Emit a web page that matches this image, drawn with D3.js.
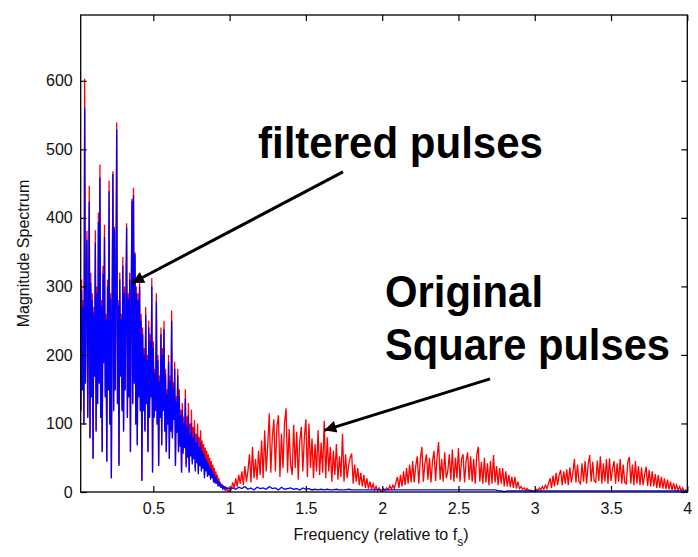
<!DOCTYPE html>
<html>
<head>
<meta charset="utf-8">
<script src="https://cdn.jsdelivr.net/npm/d3@7"></script>
<style>
  html, body { margin: 0; padding: 0; background: #ffffff; }
  svg { display: block; }
  text { font-family: "Liberation Sans", Arial, Helvetica, sans-serif; }
</style>
</head>
<body>
<svg id="chart" width="698" height="557"></svg>
<script>
// ---------------- DATA ----------------
// Low-frequency part (0.02 .. 1.00, step 0.005)
const lowStart = 0.02, lowStep = 0.005;
const redLow = [
  330,120,310,150,280,100,603,160,300,381,
  110,250,447,80,320,140,290,50,270,170,
  382,90,300,130,408,160,478,110,280,60,
  330,190,390,140,260,45,310,150,454,100,
  290,20,270,468,120,387,150,300,539,130,
  280,40,320,170,260,120,343,90,300,150,
  270,392,110,290,140,320,60,280,428,130,
  444,160,350,100,300,70,290,140,310,120,
  260,17,240,120,210,90,270,130,200,60,
  250,110,230,140,312,30,220,110,180,120,
  290,100,200,40,170,110,240,70,210,120,
  250,90,180,60,150,100,200,50,170,90,
  265,80,160,110,190,40,140,90,180,60,
  150,70,120,30,130,60,110,70,150,40,
  110,55,130,30,100,60,120,45,95,55,
  105,35,85,50,100,30,80,45,90,35,
  75,40,70,25,65,38,60,28,55,30,
  50,22,45,25,40,18,35,15,30,16,
  25,10,20,9,15,6,12,5,9,4,
  7,3,5,2,3,1,1
];
const blueLow = [
  310,118,295,148,270,98,561,158,290,368,
  108,240,423,78,305,138,280,48,262,168,
  364,88,290,128,394,158,459,108,272,58,
  318,188,372,138,252,44,300,148,439,98,
  282,20,262,464,118,383,148,292,529,128,
  272,38,310,168,252,118,330,88,290,148,
  262,386,108,282,138,310,58,272,425,128,
  433,158,347,98,290,68,280,138,300,118,
  250,16,230,118,200,88,258,128,192,58,
  240,108,220,138,300,28,210,108,172,118,
  278,98,192,38,162,108,230,68,200,118,
  238,88,172,58,143,98,190,48,162,88,
  250,78,152,105,180,38,132,86,170,58,
  140,66,112,28,120,56,100,64,136,36,
  95,50,112,28,85,52,100,40,80,48,
  88,30,72,42,82,26,66,38,72,30,
  60,34,56,20,50,30,46,22,42,24,
  38,18,34,20,30,14,26,12,22,12,
  18,8,15,8,12,6,10,5,8,5,
  7,5,6,5,6,5,5
];
// High-frequency part of the original pulses (1.01 .. 4.00, step 0.01)
const redHighStart = 1.01, redHighStep = 0.01;
const redHigh = [
  3,14,6,20,8,25,12,30,10,
  38,15,30,55,14,66,20,48,18,60,
  25,75,20,90,30,68,115,28,80,106,
  30,95,112,22,85,35,100,122,28,92,
  40,25,98,35,88,18,75,95,30,80,
  106,22,100,35,78,20,70,30,90,25,
  72,28,104,20,80,30,66,15,60,25,
  70,18,52,22,85,15,55,20,38,50,
  56,12,40,15,35,10,28,8,25,6,
  20,5,15,4,12,3,8,2,6,1,
  0.5,5,2,6,3,9,4,10,5,14,
  22,6,25,8,30,10,35,12,40,14,
  45,14,38,52,12,48,66,15,42,55,
  18,50,14,45,60,16,52,73,18,48,
  15,58,20,30,55,18,62,15,50,20,
  64,15,48,55,14,45,58,18,52,15,
  48,12,55,66,15,44,12,50,14,42,
  10,45,12,54,14,38,10,35,12,35,
  8,30,8,25,7,22,6,22,5,15,
  5,8,4,6,3,5,2,3,2,1,
  0.5,4,2,6,3,8,4,10,5,12,
  20,6,24,8,28,10,25,32,10,30,
  12,33,10,36,14,28,48,14,40,15,
  12,42,15,45,12,40,54,15,44,16,
  14,46,16,52,12,42,15,48,12,49,
  16,34,45,12,42,15,48,12,40,14,
  12,44,51,12,40,10,45,12,38,10,
  36,10,25,37,9,32,8,30,8,26,
  6,25,6,22,5,20,4,18,4,15,
  3,13,3,10,2,8,2,6,1,3,
  2
];
// High-frequency part of the filtered pulses (1.02 .. 4.00, step 0.02)
const blueHighStart = 1.02, blueHighStep = 0.02;
const blueHigh = [
  6,4,7,5,8,4,6,3,7,5,
  6,4,8,5,6,3,7,4,5,6,
  4,5,3,6,4,5,3,4,3,4,
  3,4,3,3,4,3,3,3,4,3,
  3,3,3,3,3,3,3,3,3,3,
  3,3,3,3,3,3,3,3,3,3,
  3,3,3,3,3,3,3,3,3,3,
  3,3,3,3,3,3,3,3,3,3,
  3,3,3,3,3,3,3,2,1.5,0.5,
  1.5,1.5,1.5,1.5,1.5,1.5,1.5,1.5,1.5,1.5,
  1.5,1.5,1.5,1.5,1.5,1.5,1.5,1.5,1.5,1.5,
  1.5,1.5,1.5,1.5,1.5,1.5,1.5,1.5,1.5,1.5,
  1.5,1.5,1.5,1.5,1.5,1.5,1.5,1.5,1.5,1.5,
  1.5,1.5,1.5,1.5,1.5,1.5,1.5,1.5,1.5,1.5,
  1.5,1.5,1.5,1.5,1.5,1.5,1.5,1.5,1.5,1.5
];
const xTicks = [0.5, 1, 1.5, 2, 2.5, 3, 3.5, 4];
const yTicks = [0, 100, 200, 300, 400, 500, 600];
const xDomain = [0.024, 4];
const yDomain = [0, 696];

// Annotations (data coordinates)
const annotations = [
  { lines: ["filtered pulses"], from: [1.743, 467], to: [0.36, 305] },
  { lines: ["Original", "Square pulses"], from: [2.707, 165], to: [1.62, 90] }
];

// ---------------- BUILD ----------------
const toPts = (arr, start, step) => arr.map((v, i) => [start + i * step, v]);
const redPts = toPts(redLow, lowStart, lowStep).concat(toPts(redHigh, redHighStart, redHighStep));
const bluePts = toPts(blueLow, lowStart, lowStep).concat(toPts(blueHigh, blueHighStart, blueHighStep));

const svg = d3.select("#chart");
const L = 80.7, R = 687.3, T = 15, B = 492;
const x = d3.scaleLinear().domain(xDomain).range([L, R]);
const y = d3.scaleLinear().domain(yDomain).range([B, T]);

svg.append("rect").attr("x", 0).attr("y", 0).attr("width", 698).attr("height", 557).attr("fill", "#fff");

svg.append("defs").append("clipPath").attr("id", "clip")
  .append("rect").attr("x", L).attr("y", T).attr("width", R - L).attr("height", B - T);

const line = d3.line().x(d => x(d[0])).y(d => y(d[1]));
const plot = svg.append("g").attr("clip-path", "url(#clip)");
plot.append("path").datum(redPts).attr("d", line)
  .attr("fill", "none").attr("stroke", "#ff0000").attr("stroke-width", 1.3).attr("stroke-linejoin", "miter");
plot.append("path").datum(bluePts).attr("d", line)
  .attr("fill", "none").attr("stroke", "#0000ff").attr("stroke-width", 1.3).attr("stroke-linejoin", "miter");

// Axes
const fmt = d => String(d);
const axB = svg.append("g").attr("transform", `translate(0,${B})`)
  .call(d3.axisBottom(x).tickValues(xTicks).tickFormat(fmt).tickSizeInner(-6).tickSizeOuter(0).tickPadding(11));
const axT = svg.append("g").attr("transform", `translate(0,${T})`)
  .call(d3.axisTop(x).tickValues(xTicks).tickFormat("").tickSizeInner(-6).tickSizeOuter(0));
const axL = svg.append("g").attr("transform", `translate(${L},0)`)
  .call(d3.axisLeft(y).tickValues(yTicks).tickFormat(fmt).tickSizeInner(-6).tickSizeOuter(0).tickPadding(8));
const axR = svg.append("g").attr("transform", `translate(${R},0)`)
  .call(d3.axisRight(y).tickValues(yTicks).tickFormat("").tickSizeInner(-6).tickSizeOuter(0));
[axB, axT, axL, axR].forEach(g => {
  g.select(".domain").remove();
  g.selectAll(".tick line").attr("stroke", "#000").attr("stroke-width", 1.2);
  g.selectAll(".tick text").attr("font-size", 16).attr("fill", "#111")
    .attr("font-family", "'Liberation Sans', Arial, sans-serif");
});
svg.append("rect").attr("x", L).attr("y", T).attr("width", R - L).attr("height", B - T)
  .attr("fill", "none").attr("stroke", "#000").attr("stroke-width", 1.3);

// Axis labels
const xl = svg.append("text").attr("x", 381).attr("y", 540).attr("text-anchor", "middle")
  .attr("font-size", 16).attr("fill", "#111");
xl.append("tspan").text("Frequency (relative to f");
xl.append("tspan").attr("font-size", 12).attr("dy", 6).text("s");
xl.append("tspan").attr("dy", -6).text(")");

svg.append("text").attr("transform", `translate(29,${(T + B) / 2}) rotate(-90)`)
  .attr("text-anchor", "middle").attr("font-size", 16).attr("fill", "#111")
  .text("Magnitude Spectrum");

// Annotations
svg.select("defs").append("marker").attr("id", "ah")
  .attr("viewBox", "0 0 10 10").attr("refX", 10).attr("refY", 5)
  .attr("markerWidth", 5).attr("markerHeight", 4).attr("markerUnits", "strokeWidth")
  .attr("orient", "auto")
  .append("path").attr("d", "M0,0 L10,5 L0,10 Z").attr("fill", "#000");

annotations.forEach(a => {
  svg.append("line")
    .attr("x1", x(a.from[0])).attr("y1", y(a.from[1]))
    .attr("x2", x(a.to[0])).attr("y2", y(a.to[1]))
    .attr("stroke", "#000").attr("stroke-width", 3).attr("marker-end", "url(#ah)");
});

svg.append("text").attr("x", 258).attr("y", 158).attr("font-size", 44).attr("font-weight", "bold")
  .attr("fill", "#000").attr("textLength", 285).attr("lengthAdjust", "spacingAndGlyphs").text(annotations[0].lines[0]);
svg.append("text").attr("x", 385).attr("y", 307).attr("font-size", 44).attr("font-weight", "bold")
  .attr("fill", "#000").attr("textLength", 158).attr("lengthAdjust", "spacingAndGlyphs").text(annotations[1].lines[0]);
svg.append("text").attr("x", 385).attr("y", 360).attr("font-size", 44).attr("font-weight", "bold")
  .attr("fill", "#000").attr("textLength", 285).attr("lengthAdjust", "spacingAndGlyphs").text(annotations[1].lines[1]);
</script>
</body>
</html>
